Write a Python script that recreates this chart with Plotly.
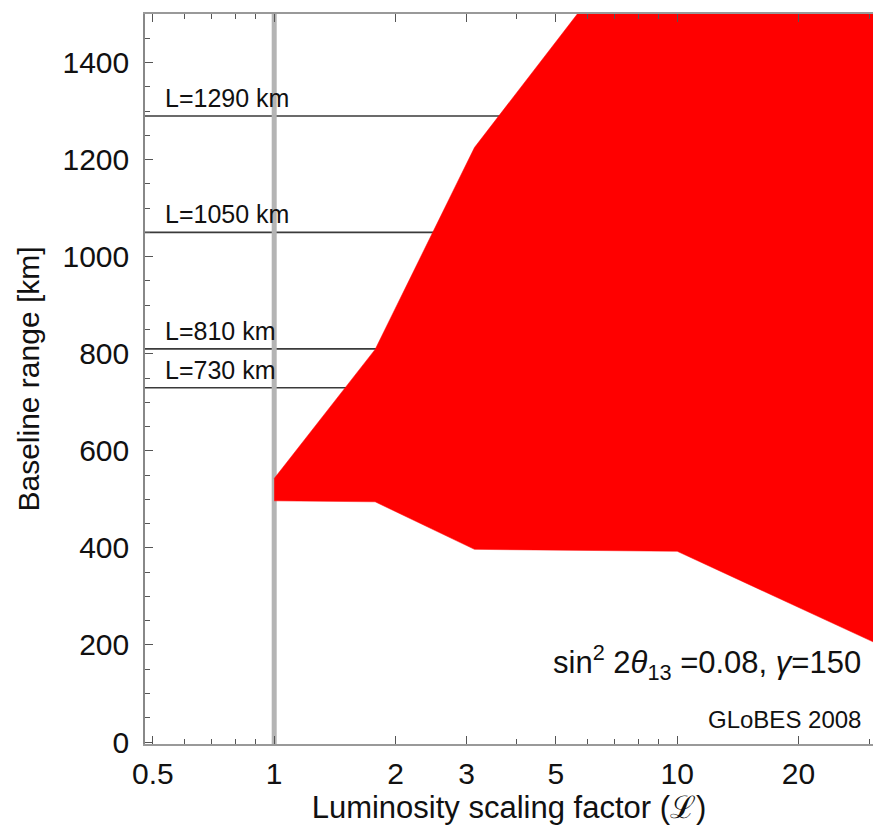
import numpy as np
import plotly.graph_objects as go

# --- data ---
lum_upper = [1.0, 1.78, 3.14, 5.65, 32.0]
base_upper = [543, 809, 1225, 1500, 1500]
lum_lower = [1.0, 1.78, 3.14, 10.0, 32.0]
base_lower = [497, 495, 397, 393, 199]

baselines = [1290, 1050, 810, 730]
baseline_labels = ["L=1290 km", "L=1050 km", "L=810 km", "L=730 km"]

x_ticks = [0.5, 1, 2, 3, 5, 10, 20]
x_minor = [0.6, 0.7, 0.8, 0.9, 4, 6, 7, 8, 9, 30]
y_ticks = [0, 200, 400, 600, 800, 1000, 1200, 1400]

x_range = [0.478, 30.6]
y_range = [-4, 1500]

FONT = "Liberation Sans, Arial, Helvetica, sans-serif"

fig = go.Figure()

# horizontal baseline lines
for b in baselines:
    fig.add_trace(go.Scatter(x=[0.3, 40], y=[b, b], mode="lines",
                             line=dict(color="#3a3a3a", width=1.6),
                             hoverinfo="skip", showlegend=False))

# vertical reference line at L = 1
fig.add_trace(go.Scatter(x=[1, 1], y=[y_range[0], y_range[1] + 10], mode="lines",
                         line=dict(color="#b4b4b4", width=5),
                         hoverinfo="skip", showlegend=False))

# red allowed region
poly_x = lum_upper + lum_lower[::-1]
poly_y = base_upper + base_lower[::-1]
fig.add_trace(go.Scatter(x=poly_x, y=poly_y, mode="lines", fill="toself",
                         fillcolor="#ff0000", line=dict(color="#ff0000", width=0.5),
                         hoverinfo="skip", showlegend=False))

annotations = []
for b, lab in zip(baselines, baseline_labels):
    annotations.append(dict(x=np.log10(0.53), y=b, xref="x", yref="y", text=lab,
                            showarrow=False, xanchor="left", yanchor="bottom",
                            yshift=2, font=dict(family=FONT, size=25, color="#111")))

annotations.append(dict(x=0.986, y=0.111, xref="paper", yref="paper",
                        text="sin<sup>2</sup> 2<i>θ</i><sub>13</sub> =0.08, <i>γ</i>=150",
                        showarrow=False, xanchor="right", yanchor="middle",
                        font=dict(family=FONT, size=31, color="#111")))
annotations.append(dict(x=0.986, y=0.033, xref="paper", yref="paper",
                        text="GLoBES 2008", showarrow=False, xanchor="right",
                        yanchor="middle", font=dict(family=FONT, size=24, color="#111")))

fig.update_layout(
    width=873, height=825,
    margin=dict(l=145, r=0, t=14, b=81),
    paper_bgcolor="white", plot_bgcolor="white",
    font=dict(family=FONT, color="#111"),
    annotations=annotations,
    showlegend=False,
)

fig.update_xaxes(
    type="log", range=[np.log10(x_range[0]), np.log10(x_range[1])],
    tickmode="array", tickvals=x_ticks, ticktext=[str(t) for t in x_ticks],
    ticks="inside", ticklen=8, tickwidth=1.2, tickcolor="#555",
    minor=dict(tickmode="array", tickvals=x_minor, ticks="inside", ticklen=5,
               tickwidth=1, tickcolor="#555", showgrid=False),
    showline=True, linecolor="#999", linewidth=2, mirror="ticks",
    showgrid=False, zeroline=False,
    tickfont=dict(family=FONT, size=30, color="#111"),
    ticklabelstandoff=2,
    title=dict(text="Luminosity scaling factor (ℒ)",
               font=dict(family=FONT, size=31, color="#111"), standoff=8),
)
fig.update_yaxes(
    range=y_range,
    tickmode="array", tickvals=y_ticks,
    ticks="inside", ticklen=8, tickwidth=1.2, tickcolor="#555",
    minor=dict(dtick=50, tick0=0, ticks="inside", ticklen=5, tickwidth=1,
               tickcolor="#555", showgrid=False),
    showline=True, linecolor="#888", linewidth=1.5, mirror=False,
    showgrid=False, zeroline=False,
    tickfont=dict(family=FONT, size=30, color="#111"),
    ticklabelstandoff=8,
    title=dict(text="Baseline range [km]",
               font=dict(family=FONT, size=30, color="#111"), standoff=14),
)

fig.write_html("out.html")
